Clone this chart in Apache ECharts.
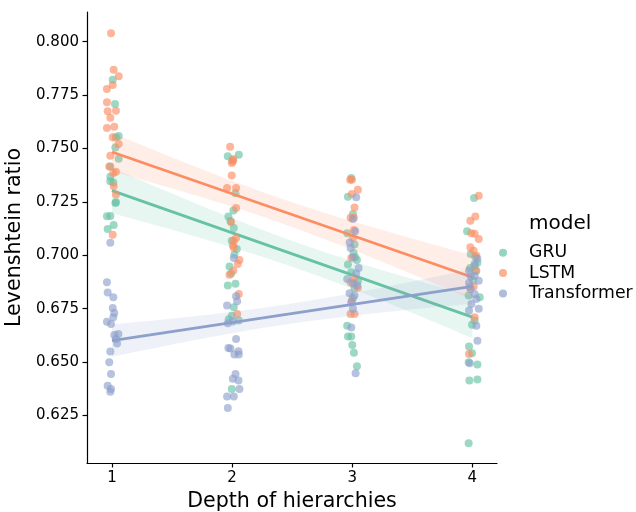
<!DOCTYPE html>
<html>
<head>
<meta charset="utf-8">
<script src="https://cdn.jsdelivr.net/npm/echarts@6/dist/echarts.min.js"></script>
<style>html,body{margin:0;padding:0;background:#fff;}#c{width:636px;height:512px;}</style>
</head>
<body>
<div id="c"></div>
<script>
// Data: [jittered depth, Levenshtein ratio]
const models = ['GRU', 'LSTM', 'Transformer'];
const xTicks = [1, 2, 3, 4];
const yTicks = [0.625, 0.650, 0.675, 0.700, 0.725, 0.750, 0.775, 0.800];

const gruPoints = [
  [1.006,0.7822],[1.025,0.7708],[1.056,0.7558],[1.033,0.7552],[1.028,0.7505],[1.056,0.7452],
  [0.986,0.7416],[0.986,0.7368],[0.986,0.7346],[1.011,0.7340],[1.033,0.7248],[1.028,0.7245],
  [0.958,0.7182],[0.986,0.7184],[1.014,0.7142],[0.964,0.7123],
  [1.964,0.7463],[2.056,0.7471],[2.003,0.7445],[2.028,0.7290],[2.011,0.7210],[1.969,0.7181],
  [1.986,0.7160],[2.014,0.7128],[1.997,0.7068],[2.039,0.7029],[2.019,0.7003],[1.978,0.6947],
  [1.992,0.6915],[1.964,0.6858],[2.028,0.6866],[2.014,0.6756],[1.997,0.6717],[2.056,0.6694],
  [1.972,0.6700],[1.997,0.6374],
  [2.992,0.7362],[2.964,0.7274],[3.006,0.7193],[2.958,0.7103],[3.019,0.7050],[3.011,0.7010],
  [3.039,0.6978],[2.964,0.6956],[2.992,0.6920],[3.047,0.6878],[3.019,0.6847],[3.006,0.6800],
  [3.025,0.6990],[2.958,0.6670],[2.964,0.6619],[2.992,0.6619],[3.000,0.6580],[3.014,0.6543],
  [3.039,0.6480],
  [4.014,0.7268],[3.956,0.7112],[3.986,0.7006],[4.019,0.6951],[4.028,0.6925],[4.006,0.6880],
  [4.042,0.6965],[3.981,0.6940],[4.025,0.6990],
  [3.969,0.6811],[4.061,0.6803],[4.019,0.6694],[3.997,0.6675],[3.972,0.6573],[3.997,0.6541],
  [3.969,0.6499],[4.042,0.6488],[3.975,0.6413],[4.042,0.6418],[3.969,0.6119]
];
const lstmPoints = [
  [0.992,0.8039],[1.014,0.7869],[1.056,0.7838],[1.006,0.7797],[0.958,0.7778],[0.958,0.7716],
  [1.033,0.7677],[0.964,0.7674],[0.986,0.7644],[1.019,0.7602],[0.958,0.7596],[1.006,0.7552],
  [1.056,0.7521],[0.986,0.7466],[0.977,0.7416],[1.033,0.7391],[1.011,0.7385],[1.014,0.7323],
  [1.033,0.7284],[1.006,0.7096],
  [1.983,0.7508],[2.011,0.7451],[1.997,0.7432],[2.006,0.7440],[1.997,0.7373],[1.958,0.7315],
  [2.033,0.7315],[2.033,0.7221],[1.992,0.7154],[2.033,0.7081],[2.014,0.7068],[2.006,0.7045],
  [2.014,0.7035],[2.061,0.6978],[2.047,0.6959],[2.011,0.6928],[1.978,0.6909],[2.056,0.6819],
  [2.042,0.6725],
  [2.983,0.7354],[2.997,0.7354],[3.047,0.7307],[2.997,0.7287],[3.019,0.7224],[2.986,0.7175],
  [3.014,0.7175],[3.014,0.7118],[3.006,0.7081],[2.992,0.6987],[3.014,0.6889],[2.986,0.6873],
  [3.047,0.6847],[2.997,0.6787],[2.986,0.6725],[3.019,0.6725],
  [4.053,0.7279],[4.025,0.7181],[3.983,0.7162],[3.992,0.7103],[4.019,0.7100],[4.053,0.7076],
  [3.983,0.7037],[4.011,0.7021],[4.033,0.6998],[4.033,0.6928],[4.011,0.6853],[3.978,0.6850],
  [4.019,0.6709],[3.972,0.6538]
];
const transformerPoints = [
  [0.986,0.7059],[0.958,0.6873],[0.964,0.6826],[1.011,0.6803],[1.006,0.6753],[1.019,0.6729],
  [1.011,0.6709],[0.958,0.6689],[0.992,0.6678],[1.053,0.6631],[1.019,0.6627],[1.033,0.6608],
  [1.042,0.6587],[0.986,0.6549],[0.977,0.6499],[0.992,0.6444],[0.964,0.6389],[0.992,0.6374],
  [0.986,0.6361],
  [2.014,0.6987],[2.033,0.6808],[2.042,0.6784],[1.958,0.6764],[1.964,0.6681],[2.006,0.6690],
  [2.033,0.6608],[1.969,0.6566],[1.986,0.6563],[2.053,0.6550],[2.019,0.6535],[2.056,0.6535],
  [2.028,0.6444],[2.006,0.6421],[2.053,0.6413],[2.061,0.6374],[1.958,0.6339],[2.014,0.6339],
  [1.964,0.6285],
  [3.033,0.7271],[3.006,0.7170],[3.025,0.7112],[2.978,0.7060],[2.986,0.7034],[3.006,0.6990],
  [3.053,0.6940],[3.033,0.6915],[2.958,0.6889],[3.006,0.6868],[3.042,0.6858],[2.978,0.6822],
  [3.019,0.6811],[2.992,0.6780],[3.006,0.6749],[2.992,0.6662],[3.028,0.6447],
  [4.042,0.6983],[4.019,0.6959],[3.972,0.6928],[4.019,0.6904],[3.986,0.6900],[4.053,0.6881],
  [3.972,0.6870],[3.986,0.6842],[4.019,0.6819],[4.033,0.6795],[3.992,0.6772],[4.053,0.6749],
  [3.972,0.6741],[4.033,0.6670],[4.042,0.6600],[3.978,0.6494]
];

const pointSets = [gruPoints, lstmPoints, transformerPoints];
const solid = ['#66c2a5', '#fc8d62', '#8da0cb'];
const pointColor = ['rgba(102,194,165,0.8)', 'rgba(252,141,98,0.8)', 'rgba(141,160,203,0.8)'];
const legendColor = ['rgba(102,194,165,0.7)', 'rgba(252,141,98,0.7)', 'rgba(141,160,203,0.7)'];
const bandColor = ['rgba(102,194,165,0.15)', 'rgba(252,141,98,0.15)', 'rgba(141,160,203,0.15)'];

// Linear regression on the (unjittered) depth with 95% confidence band
function fit(points) {
  const xs = points.map(p => Math.round(p[0]));
  const ys = points.map(p => p[1]);
  const n = xs.length;
  const mx = xs.reduce((a, b) => a + b, 0) / n;
  const my = ys.reduce((a, b) => a + b, 0) / n;
  let sxx = 0, sxy = 0;
  for (let i = 0; i < n; i++) { sxx += (xs[i] - mx) ** 2; sxy += (xs[i] - mx) * (ys[i] - my); }
  const b = sxy / sxx, a = my - b * mx;
  let sse = 0;
  for (let i = 0; i < n; i++) sse += (ys[i] - a - b * xs[i]) ** 2;
  const s2 = sse / (n - 2);
  const xmin = Math.min(...xs), xmax = Math.max(...xs);
  const upper = [], lower = [];
  const steps = 60;
  for (let k = 0; k <= steps; k++) {
    const x = xmin + (xmax - xmin) * k / steps;
    const yh = a + b * x;
    const se = Math.sqrt(s2 * (1 / n + (x - mx) ** 2 / sxx));
    upper.push([x, yh + 1.96 * se]);
    lower.push([x, yh - 1.96 * se]);
  }
  return { line: [[xmin, a + b * xmin], [xmax, a + b * xmax]], band: upper.concat(lower.reverse()) };
}

const series = [];
models.forEach((m, i) => {
  const f = fit(pointSets[i]);
  series.push({
    name: m, type: 'scatter', data: pointSets[i], symbolSize: 8, z: 10 + i * 3,
    itemStyle: { color: pointColor[i] }, emphasis: { disabled: true }
  });
  series.push({
    name: m + ' band', type: 'custom', z: 11 + i * 3, silent: true,
    data: [0],
    renderItem: function (params, api) {
      return {
        type: 'polygon',
        shape: { points: f.band.map(p => api.coord(p)) },
        style: { fill: bandColor[i], stroke: null }
      };
    }
  });
  series.push({
    name: m + ' fit', type: 'line', data: f.line, z: 12 + i * 3, silent: true,
    showSymbol: false, symbol: 'none',
    lineStyle: { color: solid[i], width: 2.8 }
  });
});

// Legend drawn as graphic elements (title + markers + labels)
const legendGraphics = [{
  type: 'text', left: 529, top: 214,
  style: { text: 'model', font: '20px "DejaVu Sans"', fill: '#000' }
}];
models.forEach((m, i) => {
  const cy = 252.7 + 20.4 * i;
  legendGraphics.push({ type: 'circle', shape: { cx: 503, cy: cy, r: 4 }, style: { fill: legendColor[i] } });
  legendGraphics.push({
    type: 'text', x: 529, y: cy,
    style: { text: m, font: '17.3px "DejaVu Sans"', fill: '#000', verticalAlign: 'middle', align: 'left' }
  });
});

const chart = echarts.init(document.getElementById('c'), null, { renderer: 'canvas' });
chart.setOption({
  animation: false,
  backgroundColor: '#fff',
  textStyle: { fontFamily: 'DejaVu Sans' },
  graphic: legendGraphics,
  grid: { left: 87, right: 139, top: 12, bottom: 49, containLabel: false, outerBoundsMode: 'none' },
  xAxis: {
    type: 'value', min: 0.792, max: 4.205,
    name: 'Depth of hierarchies', nameLocation: 'middle', nameGap: 27,
    nameTextStyle: { fontFamily: 'DejaVu Sans', fontSize: 20.6, color: '#000' },
    splitLine: { show: false },
    axisLine: { show: true, onZero: false, lineStyle: { color: '#000', width: 1.2 } },
    axisTick: { show: true, length: 4.5, lineStyle: { color: '#000', width: 1.2 }, customValues: xTicks },
    axisLabel: { margin: 8, fontSize: 15, color: '#000', customValues: xTicks, formatter: v => String(v) }
  },
  yAxis: {
    type: 'value', min: 0.6027, max: 0.8139,
    name: 'Levenshtein ratio', nameLocation: 'middle', nameGap: 51,
    nameTextStyle: { fontFamily: 'DejaVu Sans', fontSize: 20.6, color: '#000' },
    splitLine: { show: false },
    axisLine: { show: true, onZero: false, lineStyle: { color: '#000', width: 1.2 } },
    axisTick: { show: true, length: 4.5, lineStyle: { color: '#000', width: 1.2 }, customValues: yTicks },
    axisLabel: { margin: 8, fontSize: 15, color: '#000', customValues: yTicks, formatter: v => v.toFixed(3) }
  },
  series: series
});
</script>
</body>
</html>
